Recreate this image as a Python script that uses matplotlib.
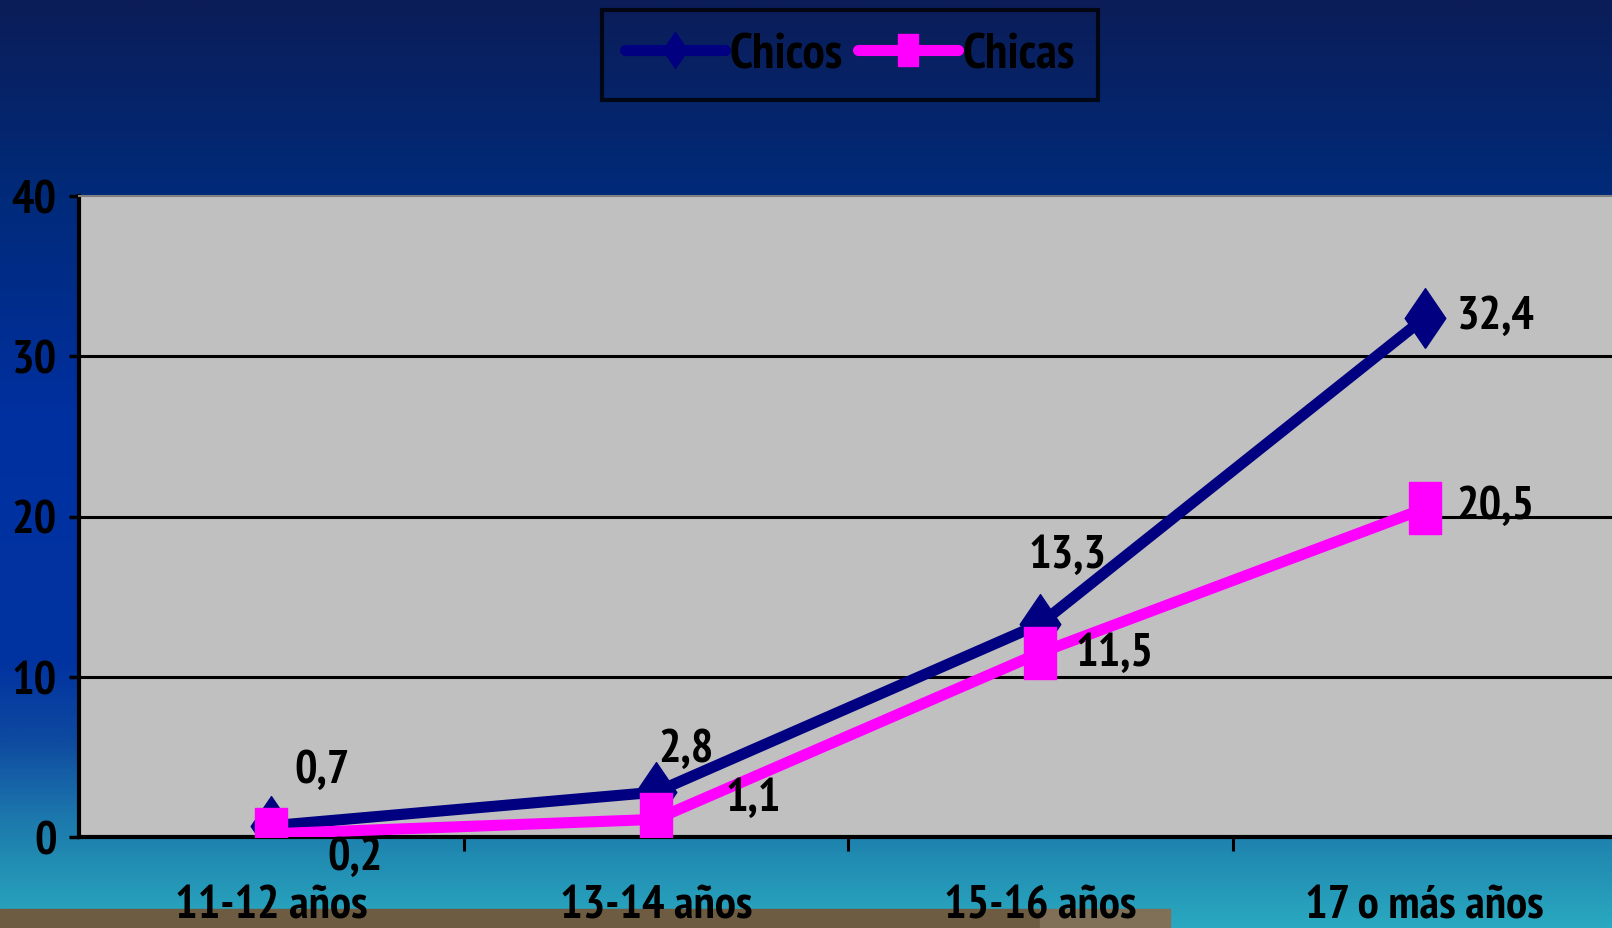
import numpy as np
import matplotlib
matplotlib.use("Agg")
import matplotlib.pyplot as plt
from matplotlib.colors import LinearSegmentedColormap
from matplotlib.patches import Rectangle

# datos
categorias = ["11-12 años", "13-14 años", "15-16 años", "17 o más años"]
chicos = [0.7, 2.8, 13.3, 32.4]
chicas = [0.2, 1.1, 11.5, 20.5]
etiquetas_chicos = ["0,7", "2,8", "13,3", "32,4"]
etiquetas_chicas = ["0,2", "1,1", "11,5", "20,5"]
yticks = [0, 10, 20, 30, 40]

plt.rcParams["font.family"] = ["PT Sans Narrow", "DejaVu Sans"]
plt.rcParams["font.weight"] = "bold"

fig = plt.figure(figsize=(16.12, 9.29), dpi=100)

# fondo degradado
bg = fig.add_axes([0, 0, 1, 1], zorder=-10)
cmap = LinearSegmentedColormap.from_list("fondo", [
    (0.00, "#0b1d58"),
    (0.20, "#012a78"),
    (0.45, "#0030a0"),
    (0.72, "#0234a0"),
    (0.80, "#0e4aa0"),
    (0.88, "#1c76ac"),
    (0.92, "#2088b0"),
    (1.00, "#2aa8c0"),
])
grad = np.linspace(0, 1, 400).reshape(-1, 1)
bg.imshow(grad, aspect="auto", cmap=cmap, extent=[0, 1, 0, 1], origin="upper")
bg.add_patch(Rectangle((0, 0), 1040 / 1612, 19 / 929, color="#6e5c42"))
bg.add_patch(Rectangle((1040 / 1612, 0), 130 / 1612, 19 / 929, color="#807058"))
bg.set_xlim(0, 1)
bg.set_ylim(0, 1)
bg.axis("off")

ax = fig.add_axes([79 / 1612, 1 - 838 / 929, 1538 / 1612, 641 / 929])
ax.set_facecolor("#c0c0c0")
x = np.arange(len(categorias))

for v in yticks[1:-1]:
    ax.axhline(v, color="black", lw=2.2, zorder=1)

diamante = [(0, -1), (0.68, 0), (0, 1), (-0.68, 0), (0, -1)]
cuadrado = [(-0.62, -1), (0.62, -1), (0.62, 1), (-0.62, 1), (-0.62, -1)]

ax.plot(x, chicos, color="#000080", lw=8, marker=diamante, markersize=43,
        label="Chicos", zorder=3, solid_capstyle="round")
ax.plot(x, chicas, color="#ff00ff", lw=8, marker=cuadrado, markersize=38,
        label="Chicas", zorder=4, solid_capstyle="round")

# posiciones de etiquetas (pixeles, dx, dy hacia arriba, alineacion)
pos_chicos = [(51, 56, "center"), (30, 43, "center"), (27, 69, "center"), (32, 2, "left")]
pos_chicas = [(84, -23, "center"), (97, 21, "center"), (35, 0, "left"), (32, 2, "left")]

for xi, yi, t, (dx, dy, ha) in zip(x, chicos, etiquetas_chicos, pos_chicos):
    ax.annotate(t, (xi, yi), xytext=(dx, dy), textcoords="offset pixels",
                ha=ha, va="center", fontsize=34, fontweight="bold", zorder=6)
for xi, yi, t, (dx, dy, ha) in zip(x, chicas, etiquetas_chicas, pos_chicas):
    ax.annotate(t, (xi, yi), xytext=(dx, dy), textcoords="offset pixels",
                ha=ha, va="center", fontsize=34, fontweight="bold", zorder=6,
                annotation_clip=False)

ax.set_xlim(-0.5, 3.5)
ax.set_ylim(0, 40)
ax.set_yticks(yticks)
ax.set_xticks(x)
ax.set_xticklabels(categorias)
ax.set_xticks([0.5, 1.5, 2.5], minor=True)
ax.tick_params(axis="y", direction="out", length=7, width=2.5, pad=9,
               labelsize=34, colors="black")
ax.tick_params(axis="x", which="major", length=0, pad=34, labelsize=34)
ax.tick_params(axis="x", which="minor", direction="out", length=10, width=2.2)
for lab in ax.get_xticklabels() + ax.get_yticklabels():
    lab.set_fontweight("bold")

ax.spines["right"].set_visible(False)
ax.spines["left"].set_linewidth(3)
ax.spines["bottom"].set_linewidth(3)
ax.spines["top"].set_color("#808080")
ax.spines["top"].set_linewidth(1.5)

leg = fig.legend(loc="center", bbox_to_anchor=(850 / 1612, 1 - 56 / 929), ncol=2,
                 frameon=True, markerscale=0.6, handlelength=2.0,
                 handletextpad=0.1, columnspacing=0.3, borderpad=0.45,
                 fancybox=False, prop={"weight": "bold", "size": 36})
leg.get_frame().set_facecolor("none")
leg.get_frame().set_edgecolor("black")
leg.get_frame().set_linewidth(3)

fig.savefig("out.png", dpi=100)
